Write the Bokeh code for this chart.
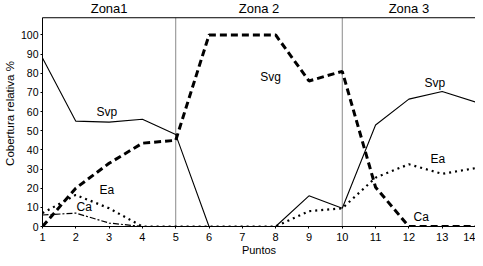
from bokeh.plotting import figure
from bokeh.models import Range1d, FixedTicker, Span, ColumnDataSource, LinearAxis
from bokeh.core.properties import value
from bokeh.embed import file_html
from bokeh.resources import INLINE

puntos = list(range(1, 15))
svp = [88, 55, 54.5, 56, 48, 0, 0, 0, 16, 9.5, 53, 66.5, 70.5, 65]
svg = [0, 20, 33, 43.5, 45, 100, 100, 100, 76, 81, 20.5, 0, 0, 0]
ea = [7, 16.5, 9.5, 0, 0, 0, 0, 0, 8, 9.5, 25.5, 32.5, 27.5, 30.5]
ca = [6, 7, 1.8, 0, 0, 0, 0, 0, 0, 0, 0, 0, 0, 0]

zonas = ["Zona1", "Zona 2", "Zona 3"]
zona_centros = [3.0, 7.5, 12.0]
zona_limites = [5, 10]

etiquetas = ["Svp", "Svg", "Ea", "Ca", "Svp", "Ea", "Ca"]
etiq_x = [2.93, 7.85, 2.93, 2.25, 12.78, 12.87, 12.37]
etiq_y = [60, 78, 19, 10, 75, 35.5, 4.7]

y_ticks = list(range(0, 101, 10))

FONT = "Liberation Sans"
Y_TOP = 109      # top of the boxed plot area
Y_END = 118      # extra room above the box for the zone titles

p = figure(width=475, height=258, x_range=Range1d(1, 14), y_range=Range1d(0, Y_END),
           output_backend="svg", toolbar_location=None,
           min_border_left=0, min_border_right=0, min_border_top=0, min_border_bottom=0)
p.xgrid.visible = False
p.ygrid.visible = False
p.outline_line_color = None

# box: top border, zone limits
p.add_layout(Span(location=Y_TOP, dimension="width", line_color="black", line_width=1))
p.segment(x0=zona_limites, y0=[0] * len(zona_limites), x1=zona_limites,
          y1=[Y_TOP] * len(zona_limites), line_color="#8a8a8a", line_width=1)

p.line(puntos, svp, line_color="black", line_width=1.1)
p.line(puntos, svg, line_color="black", line_width=3, line_dash="7 4")
p.line(puntos, ea, line_color="black", line_width=2.2, line_dash="2 4")
p.line(puntos, ca, line_color="black", line_width=1.2, line_dash="6 2 2 2")

src = ColumnDataSource(dict(x=etiq_x, y=etiq_y, t=etiquetas))
p.text(x="x", y="y", text="t", source=src, text_align="center", text_baseline="middle",
       text_font=value(FONT), text_font_size="12px", text_color="black")

# zone titles above the box
p.text(x=zona_centros, y=[Y_END] * len(zonas), text=zonas, text_align="center",
       text_baseline="top", text_font=value(FONT), text_font_size="13px", text_color="black")

# x axis
xa = p.xaxis[0]
xa.ticker = FixedTicker(ticks=puntos)
xa.axis_label = "Puntos"
xa.axis_label_text_font = FONT
xa.axis_label_text_font_style = "normal"
xa.axis_label_text_font_size = "11px"
xa.axis_label_text_color = "black"
xa.axis_label_standoff = 0
xa.major_label_text_font = FONT
xa.major_label_text_font_size = "11px"
xa.major_label_text_color = "black"
xa.major_label_standoff = 4
xa.major_tick_in = 0
xa.major_tick_out = 2
xa.major_tick_line_color = "black"
xa.minor_tick_line_color = None
xa.axis_line_color = "black"

# y axis
ya = p.yaxis[0]
ya.ticker = FixedTicker(ticks=y_ticks)
ya.bounds = (0, Y_TOP)
ya.axis_label = "Cobertura relativa %"
ya.axis_label_text_font = FONT
ya.axis_label_text_font_style = "normal"
ya.axis_label_text_font_size = "11.5px"
ya.axis_label_text_color = "black"
ya.axis_label_standoff = 2
ya.major_label_text_font = FONT
ya.major_label_text_font_size = "10.5px"
ya.major_label_text_color = "black"
ya.major_label_standoff = 2
ya.major_tick_in = 0
ya.major_tick_out = 2
ya.major_tick_line_color = "black"
ya.minor_tick_line_color = None
ya.axis_line_color = "black"

# right border as a bare axis line
ra = LinearAxis(ticker=FixedTicker(ticks=[]), bounds=(0, Y_TOP))
ra.major_tick_line_color = None
ra.minor_tick_line_color = None
ra.major_label_standoff = 0
ra.axis_line_color = "black"
p.add_layout(ra, "right")

open("out.html", "w").write(file_html(p, INLINE))
